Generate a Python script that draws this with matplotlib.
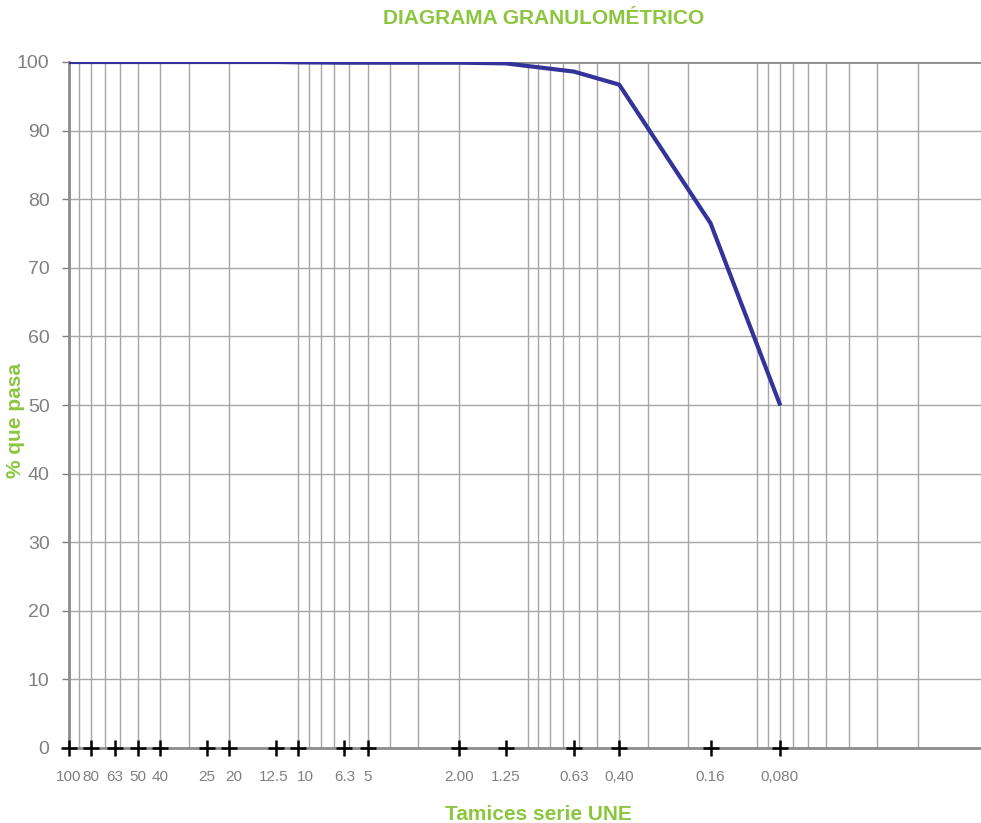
import matplotlib
matplotlib.use("Agg")
import matplotlib.pyplot as plt
from matplotlib.ticker import LogLocator, NullFormatter
from matplotlib.transforms import ScaledTranslation

plt.rcParams['font.family'] = ['Liberation Sans', 'DejaVu Sans']

# tamices serie UNE (mm) y % que pasa
tamices = [100, 80, 63, 50, 40, 25, 20, 12.5, 10, 6.3, 5, 2.00, 1.25, 0.63, 0.40, 0.16, 0.080]
etiquetas = ['100', '80', '63', '50', '40', '25', '20', '12.5', '10', '6.3', '5',
             '2.00', '1.25', '0.63', '0,40', '0.16', '0,080']
pasa = [100, 100, 100, 100, 100, 100, 100, 100, 99.95, 99.9, 99.9, 99.9, 99.8, 98.6, 96.7, 76.5, 50.2]

verde = '#8cc63f'
gris = '#808080'

fig = plt.figure(figsize=(9.81, 8.23), dpi=100)
ax = fig.add_axes([69 / 981, 1 - 748 / 823, 1 - 69 / 981, (748 - 62) / 823])

ax.set_xscale('log')
ax.set_xlim(100, 0.0106)
ax.set_ylim(0, 100)

# rejilla logaritmica (solo menor), etiquetas en los tamices
ax.set_xticks(tamices)
ax.set_xticklabels(etiquetas)
ax.xaxis.set_minor_locator(LogLocator(base=10, subs=range(1, 10), numticks=20))
ax.xaxis.set_minor_formatter(NullFormatter())
ax.xaxis.remove_overlapping_locs = False
ax.grid(True, which='minor', axis='x', color='#a6a6a6', lw=1)
ax.set_yticks(range(0, 101, 10))
ax.grid(True, which='major', axis='y', color='#a6a6a6', lw=1)
ax.set_axisbelow(True)
ax.axhline(100, color='#8c8c8c', lw=2, zorder=1)

ax.plot(tamices, pasa, color='#333399', lw=3, zorder=3)
ax.plot(tamices, [0] * len(tamices), ls='none', marker='+', ms=12, mew=1.8,
        color='black', clip_on=False, zorder=4)

ax.tick_params(axis='x', which='both', length=0, pad=16, labelsize=11, labelcolor=gris)
ax.tick_params(axis='y', length=5, width=1, color=gris, pad=9, labelsize=14, labelcolor=gris)

# separar un poco 12.5 y 10 como en el original
desplaz = {'12.5': -3, '10': 7, '20': 4}
for lab in ax.get_xticklabels():
    dx = desplaz.get(lab.get_text(), 0)
    if dx:
        lab.set_transform(lab.get_transform() + ScaledTranslation(dx / 100, 0, fig.dpi_scale_trans))

for s in ['top', 'right']:
    ax.spines[s].set_visible(False)
ax.spines['left'].set_color('#8c8c8c')
ax.spines['left'].set_linewidth(2)
ax.spines['bottom'].set_color('#8c8c8c')
ax.spines['bottom'].set_linewidth(2)

fig.text(544 / 981, 1 - 19 / 823, 'DIAGRAMA GRANULOMÉTRICO', color=verde,
         fontsize=15, fontweight='bold', ha='center', va='center')
fig.text(538 / 981, 1 - 815 / 823, 'Tamices serie UNE', color=verde,
         fontsize=15, fontweight='bold', ha='center', va='center')
fig.text(16 / 981, 1 - 421 / 823, '% que pasa', color=verde, rotation=90,
         fontsize=15, fontweight='bold', ha='center', va='center')

fig.savefig('out.png', dpi=100)
